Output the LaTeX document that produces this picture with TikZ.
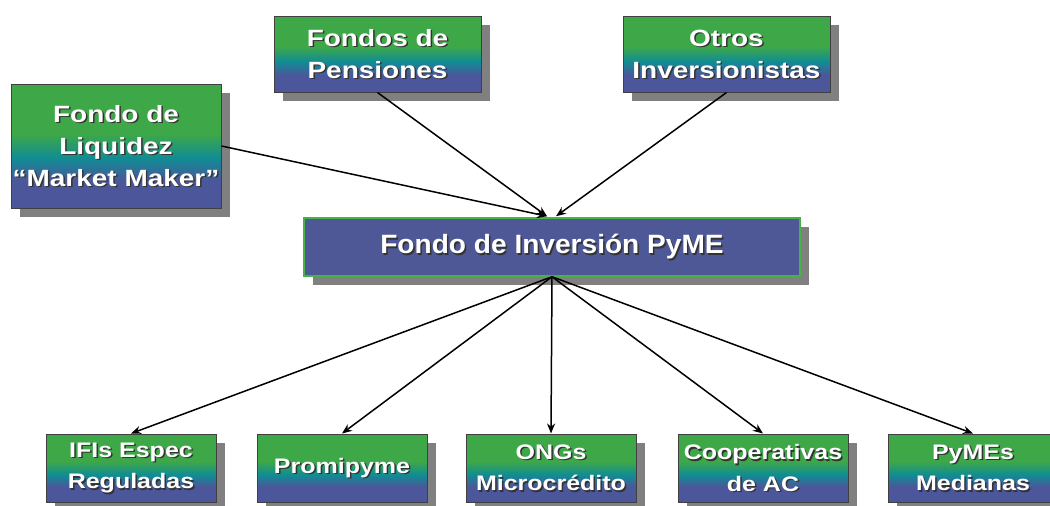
\documentclass[tikz,border=0pt]{standalone}
\usepackage{fontspec}
\usetikzlibrary{arrows.meta,shadows}
\newfontfamily\wideA[FakeStretch=1.19]{Liberation Sans}
\newfontfamily\wideB[FakeStretch=1.06]{Liberation Sans}
\definecolor{greenc}{RGB}{62,168,72}
\definecolor{tealc}{RGB}{16,140,148}
\definecolor{bluec}{RGB}{76,86,154}
\definecolor{cenfill}{RGB}{78,88,150}
\definecolor{cenborder}{RGB}{70,178,72}
\pgfdeclareverticalshading{boxgrad}{100bp}{color(0bp)=(bluec); color(36bp)=(bluec); color(45bp)=(tealc); color(55bp)=(greenc); color(100bp)=(greenc)}
\tikzset{
  shadowed/.style={drop shadow={shadow xshift=9pt, shadow yshift=-9pt, fill=black!50, opacity=1}},
  gradbox/.style={shadowed, shading=boxgrad, draw=black!75, line width=1pt, inner sep=0pt},
  topbox/.style={gradbox, minimum width=207pt, minimum height=76pt},
  liqbox/.style={gradbox, minimum width=210pt, minimum height=124pt},
  botbox/.style={gradbox, minimum width=170pt, minimum height=68pt},
  cenbox/.style={shadowed, fill=cenfill, draw=cenborder, line width=1.5pt, inner sep=0pt, minimum width=496pt, minimum height=58pt},
  toptext/.style={inner sep=0pt, align=center, font=\wideA\bfseries\fontsize{23.5}{32}\selectfont},
  bottext/.style={inner sep=0pt, align=center, font=\wideA\bfseries\fontsize{21}{31.5}\selectfont},
  centext/.style={inner sep=0pt, align=center, font=\wideB\bfseries\fontsize{26.5}{32}\selectfont},
  arr/.style={draw=black, line width=1.5pt, -{Stealth[length=10pt,width=8pt]}}
}
\newcommand\tbox[6]{%
  \node[#2] (#1) at (#3,#4) {};
  \node[#5, text=black!80] at ([shift={(1.5pt,-1.5pt)}]#1.center) {#6};
  \node[#5, text=white] at (#1.center) {#6};}
\begin{document}
\begin{tikzpicture}[x=1pt,y=-1pt]
\useasboundingbox (0,0) rectangle (1050,506);
\clip (0,0) rectangle (1050,506);
\tbox{liq}{liqbox}{116}{146}{toptext}{Fondo de\\Liquidez\\“Market Maker”}
\tbox{pen}{topbox}{377.5}{54}{toptext}{Fondos de\\Pensiones}
\tbox{otr}{topbox}{726.5}{54}{toptext}{Otros\\Inversionistas}
\tbox{cen}{cenbox}{552}{247}{centext}{Fondo de Inversión PyME}
\tbox{ifi}{botbox}{131}{468}{bottext}{IFIs Espec\\Reguladas}
\tbox{pro}{botbox}{342}{468}{bottext}{Promipyme}
\tbox{ong}{botbox}{551}{468}{bottext}{ONGs\\Microcrédito}
\tbox{coo}{botbox}{763}{468}{bottext}{Cooperativas\\de AC}
\tbox{pym}{botbox}{973}{468}{bottext}{PyMEs\\Medianas}
\coordinate (inL) at ([xshift=-5pt,yshift=1pt]cen.north);
\coordinate (inR) at ([xshift=4pt,yshift=1pt]cen.north);
\draw[arr] (liq.east) -- (inL);
\draw[arr] (pen.south) -- (inL);
\draw[arr] (otr.south) -- (inR);
\foreach \t in {ifi,pro,ong,coo,pym}{
  \draw[arr] (cen.south) -- (\t.north);
}
\end{tikzpicture}
\end{document}
